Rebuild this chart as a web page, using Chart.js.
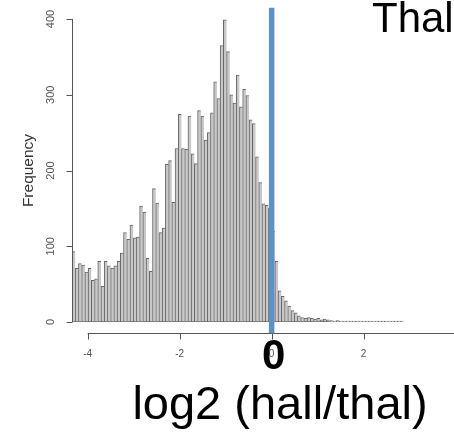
<!DOCTYPE html>
<html>
<head>
<meta charset="utf-8">
<title>log2 (hall/thal)</title>
<script src="https://cdn.jsdelivr.net/npm/chart.js@4"></script>
<style>
    html, body { margin: 0; padding: 0; background: #fff; }
    canvas { display: block; }
</style>
</head>
<body>
<canvas id="hallThalHist" width="454" height="432"></canvas>
<script>
// ===== Histogram data =====
const binStart = -4.34;
const binWidth = 0.07;
const counts = [
    93, 71, 77, 75, 66, 71, 55, 57, 80, 47,
    80, 74, 71, 74, 80, 91, 118, 109, 128, 111,
    112, 153, 145, 84, 67, 176, 157, 118, 124, 208,
    213, 158, 229, 274, 229, 228, 272, 222, 209, 279,
    272, 240, 250, 276, 317, 295, 365, 399, 357, 300,
    289, 326, 284, 307, 299, 267, 262, 218, 184, 156,
    154, 150, 120, 80, 41, 34, 28, 21, 15, 12,
    8, 6, 5, 6, 5, 4, 5, 3, 4, 3,
    2, 1, 2, 1, 1, 0, 0, 0, 0, 0,
    0, 0, 0, 0, 0, 0, 0, 0, 0, 0,
    0, 0, 1
];
const xTicks = [-4, -2, 0, 2];
const xAxisEnd = 4;
const yTicks = [0, 100, 200, 300, 400];
const markerValue = 0;

const binCenters = counts.map((c, i) => binStart + (i + 0.5) * binWidth);

// ===== R style axes, labels and the blue marker =====
const rAxes = {
    id: 'rAxes',
    afterDraw(chart) {
        const { ctx, scales: { x, y } } = chart;
        const y0 = y.getPixelForValue(0);
        const axisY = y0 + 11.5;
        const axisX = chart.chartArea.left + 0.5;

        ctx.save();
        ctx.strokeStyle = '#555';
        ctx.lineWidth = 1;

        // y axis
        ctx.beginPath();
        ctx.moveTo(axisX, y.getPixelForValue(yTicks[0]));
        ctx.lineTo(axisX, y.getPixelForValue(yTicks[yTicks.length - 1]));
        yTicks.forEach(t => {
            const py = Math.round(y.getPixelForValue(t)) + 0.5;
            ctx.moveTo(axisX, py);
            ctx.lineTo(axisX - 6, py);
        });
        ctx.stroke();

        ctx.fillStyle = '#555';
        ctx.font = '11px "Liberation Sans", Arial, sans-serif';
        ctx.textAlign = 'center';
        ctx.textBaseline = 'middle';
        yTicks.forEach(t => {
            ctx.save();
            ctx.translate(51, y.getPixelForValue(t));
            ctx.rotate(-Math.PI / 2);
            ctx.fillText(String(t), 0, 0);
            ctx.restore();
        });

        // x axis
        ctx.beginPath();
        ctx.moveTo(x.getPixelForValue(xTicks[0]), axisY);
        ctx.lineTo(x.getPixelForValue(xAxisEnd), axisY);
        xTicks.forEach(t => {
            const px = Math.round(x.getPixelForValue(t)) + 0.5;
            ctx.moveTo(px, axisY);
            ctx.lineTo(px, axisY + 6);
        });
        ctx.stroke();

        ctx.font = '10px "Liberation Sans", Arial, sans-serif';
        xTicks.forEach(t => {
            ctx.fillText(String(t), x.getPixelForValue(t), axisY + 21);
        });

        // y title
        ctx.save();
        ctx.fillStyle = '#333';
        ctx.font = '15.5px "Liberation Sans", Arial, sans-serif';
        ctx.textBaseline = 'alphabetic';
        ctx.translate(32.5, (y.getPixelForValue(0) + y.getPixelForValue(400)) / 2);
        ctx.rotate(-Math.PI / 2);
        ctx.fillText('Frequency', 0, 0);
        ctx.restore();

        // blue marker line at 0
        const mx = x.getPixelForValue(markerValue);
        ctx.strokeStyle = '#5b92c9';
        ctx.lineWidth = 5.5;
        ctx.beginPath();
        ctx.moveTo(mx, y.getPixelForValue(415));
        ctx.lineTo(mx, y.getPixelForValue(-15));
        ctx.stroke();

        // big labels
        ctx.fillStyle = '#000';
        ctx.textBaseline = 'alphabetic';
        ctx.font = 'bold 42px "Liberation Sans", Arial, sans-serif';
        ctx.textAlign = 'center';
        ctx.fillText(String(markerValue), mx + 2, 369);

        ctx.font = '47px "Liberation Sans", Arial, sans-serif';
        ctx.fillText('log2 (hall/thal)', 280, 419);

        ctx.textAlign = 'left';
        ctx.font = '42px "Liberation Sans", Arial, sans-serif';
        ctx.fillText('Thal', 372, 32);

        ctx.restore();
    }
};

// ===== Chart.js histogram =====
const ctx = document.getElementById('hallThalHist').getContext('2d');
const hallThalHist = new Chart(ctx, {
    type: 'bar',
    data: {
        datasets: [{
            label: 'Frequency',
            data: counts.map((c, i) => ({ x: binCenters[i], y: c })),
            backgroundColor: '#c8c8c8',
            borderColor: '#666',
            borderWidth: { top: 1, left: 1, right: 0, bottom: 1 },
            borderSkipped: false,
            minBarLength: 1,
            categoryPercentage: 1.0,
            barPercentage: 1.0
        }]
    },
    options: {
        responsive: false,
        animation: false,
        devicePixelRatio: 1,
        layout: {
            padding: { left: 72, right: 0, top: 19, bottom: 110 }
        },
        plugins: {
            legend: { display: false },
            tooltip: { enabled: false }
        },
        scales: {
            x: {
                type: 'linear',
                min: binStart,
                max: 3.964,
                offset: false,
                display: false
            },
            y: {
                min: 0,
                max: 400,
                display: false
            }
        }
    },
    plugins: [rAxes]
});
</script>
</body>
</html>
